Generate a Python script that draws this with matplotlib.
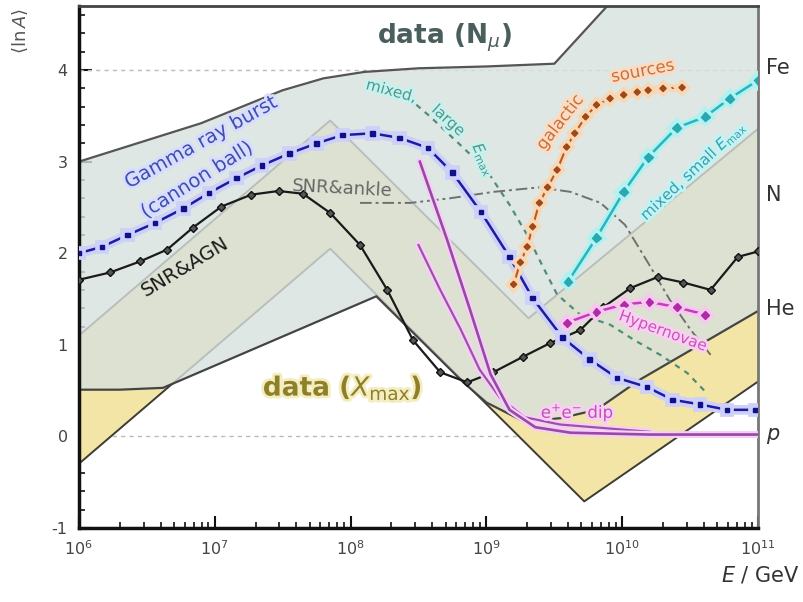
import matplotlib.pyplot as plt
import matplotlib.patheffects as pe
import numpy as np
from matplotlib.ticker import LogLocator, MultipleLocator, NullFormatter

plt.rcParams['font.family'] = ['DejaVu Sans']
plt.rcParams['axes.unicode_minus'] = False

# all energies are log10(E / GeV), composition is <lnA>

# muon-number data band
nmu_up_e = [6.0, 6.3, 6.6, 6.9, 7.2, 7.5, 7.8, 8.1, 8.5, 9.0, 9.5, 9.92]
nmu_up_a = [3.0, 3.14, 3.28, 3.42, 3.6, 3.78, 3.91, 3.98, 4.02, 4.04, 4.07, 4.75]
nmu_lo_e = [6.0, 6.3, 6.62, 8.19, 8.83, 9.0, 9.28, 9.55, 9.81, 10.13, 11.0]
nmu_lo_a = [0.51, 0.51, 0.53, 1.53, 0.59, 0.37, 0.16, 0.2, 0.29, 0.62, 1.37]

# Xmax data band
xmax_lo_e = [6.0, 7.85, 9.72, 11.0]
xmax_lo_a = [-0.3, 2.05, -0.71, 0.6]
xmax_up_e = [6.0, 7.85, 9.31, 11.0]
xmax_up_a = [1.1, 3.45, 1.29, 3.36]

# model predictions
grb_e = [6.0, 6.17, 6.36, 6.56, 6.77, 6.96, 7.16, 7.35, 7.55, 7.75, 7.94, 8.16, 8.36,
         8.57, 8.75, 8.96, 9.17, 9.34, 9.56, 9.76, 9.96, 10.18, 10.37, 10.57, 10.77, 10.98]
grb_a = [2.0, 2.07, 2.2, 2.33, 2.49, 2.66, 2.82, 2.96, 3.09, 3.2, 3.29, 3.31, 3.26,
         3.15, 2.88, 2.45, 1.96, 1.51, 1.08, 0.84, 0.64, 0.54, 0.4, 0.35, 0.29, 0.29]

agn_e = [6.0, 6.23, 6.45, 6.65, 6.84, 7.05, 7.27, 7.47, 7.65, 7.85, 8.07, 8.27, 8.46,
         8.66, 8.86, 9.05, 9.27, 9.47, 9.69, 9.86, 10.06, 10.26, 10.45, 10.65, 10.85, 11.0]
agn_a = [1.71, 1.79, 1.91, 2.04, 2.28, 2.51, 2.64, 2.68, 2.65, 2.44, 2.09, 1.6, 1.05,
         0.7, 0.59, 0.7, 0.87, 1.02, 1.16, 1.41, 1.62, 1.74, 1.68, 1.6, 1.96, 2.02]

ankle_e = [8.07, 8.44, 8.73, 9.05, 9.39, 9.62, 9.84, 10.02, 10.2, 10.35, 10.5, 10.65]
ankle_a = [2.55, 2.55, 2.6, 2.67, 2.72, 2.67, 2.55, 2.31, 1.87, 1.49, 1.17, 0.89]

mixl_e = [8.36, 8.58, 8.81, 9.0, 9.17, 9.3, 9.42, 9.52, 9.69, 9.91, 10.09, 10.28, 10.48, 10.61]
mixl_a = [3.78, 3.5, 3.18, 2.91, 2.53, 2.2, 1.84, 1.55, 1.33, 1.22, 1.05, 0.89, 0.69, 0.49]

gal_e = [9.2, 9.25, 9.3, 9.34, 9.39, 9.45, 9.52, 9.59, 9.65, 9.73, 9.81, 9.91, 10.01,
         10.11, 10.19, 10.3, 10.44]
gal_a = [1.66, 1.9, 2.07, 2.29, 2.55, 2.72, 2.91, 3.16, 3.31, 3.49, 3.62, 3.69, 3.73,
         3.76, 3.78, 3.8, 3.81]

mixs_e = [9.6, 9.81, 10.01, 10.19, 10.4, 10.61, 10.79, 11.0]
mixs_a = [1.69, 2.17, 2.67, 3.05, 3.37, 3.49, 3.69, 3.89]

hyp_e = [9.59, 9.81, 10.01, 10.2, 10.4, 10.61]
hyp_a = [1.24, 1.36, 1.44, 1.47, 1.41, 1.33]

dip1_e = [8.51, 8.71, 8.88, 9.03, 9.17, 9.36, 9.62, 10.2, 11.0]
dip1_a = [3.0, 2.15, 1.38, 0.68, 0.29, 0.1, 0.04, 0.02, 0.02]
dip2_e = [8.5, 8.66, 8.81, 8.95, 9.1, 9.28, 9.54, 10.2]
dip2_a = [2.09, 1.6, 1.17, 0.73, 0.42, 0.21, 0.13, 0.05]

elements = ['Fe', 'N', 'He', '$p$']
element_lnA = [np.log(56), np.log(14), np.log(4), 0.0]


def E(v):
    return 10.0 ** np.asarray(v)


def glow(color, w):
    return [pe.Stroke(linewidth=w, foreground=color), pe.Normal()]


fig = plt.figure(figsize=(8.04, 6.02), dpi=100)
ax = fig.add_axes([0.098, 0.123, 0.845, 0.867])
ax.set_xscale('log')
ax.set_xlim(1e6, 1e11)
ax.set_ylim(-1, 4.7)
ax.set_axisbelow(True)

# dashed reference lines
for y in [0, 4]:
    ax.axhline(y, color='#bbbbbb', ls=(0, (3, 3)), lw=1, zorder=0.6)

# Xmax band (under the muon band)
ax.fill(E(xmax_lo_e + xmax_up_e[::-1]), xmax_lo_a + xmax_up_a[::-1],
        color='#f3e5a6', lw=0, zorder=1)
ax.plot(E(xmax_lo_e), xmax_lo_a, color='#3c3c34', lw=1.4, zorder=1.1)
ax.plot(E(xmax_up_e), xmax_up_a, color='#3c3c34', lw=1.4, zorder=1.1)

# muon band, semi transparent
ax.fill(E(nmu_up_e + [11.0] + nmu_lo_e[::-1]), nmu_up_a + [4.75] + nmu_lo_a[::-1],
        color='#d8e1de', alpha=0.8, lw=0, zorder=1.2)
ax.plot(E(nmu_up_e), nmu_up_a, color='#555555', lw=1.6, zorder=1.3)
ax.plot(E(nmu_lo_e), nmu_lo_a, color='#444444', lw=1.6, zorder=1.3)

# models
ax.plot(E(ankle_e), ankle_a, color='#707070', lw=1.4, ls=(0, (6, 2, 1.5, 2)), zorder=3)
ax.plot(E(mixl_e), mixl_a, color='#4e8e78', lw=1.6, ls=(0, (2.5, 2.5)), zorder=3)

ax.plot(E(agn_e), agn_a, color='#1a1a1a', lw=1.6, marker='D', ms=4.5,
        mfc='#555555', mec='#111111', zorder=4)
ax.plot(E(grb_e), grb_a, color='#1c1ca0', lw=1.8, marker='s', ms=3.2,
        mfc='#10108a', mec='#10108a', zorder=5, path_effects=glow('#cdd0f8', 7))
ax.plot(E(gal_e), gal_a, color='#b85a28', lw=1.5, marker='D', ms=3.2,
        mfc='#a04818', mec='#a04818', zorder=5, path_effects=glow('#f8d8b4', 6))
ax.plot(E(mixs_e), mixs_a, color='#2ab4bc', lw=1.8, marker='D', ms=4.5,
        mfc='#28a8b0', mec='#28a8b0', zorder=5, path_effects=glow('#b0f2f2', 6))
ax.plot(E(hyp_e), hyp_a, color='#c63cbc', lw=1.8, marker='D', ms=4,
        mfc='#b02aa8', mec='#b02aa8', zorder=5, path_effects=glow('#f6c8f0', 6))
ax.plot(E(dip2_e), dip2_a, color='#a050aa', lw=1.6, zorder=5,
        path_effects=glow('#f4d0f4', 5))
ax.plot(E(dip1_e), dip1_a, color='#9a48a6', lw=1.9, zorder=5,
        path_effects=glow('#f4d0f4', 5))

# labels
def label(e, a, s, color, size, rot=0, halo=None, **kw):
    t = ax.text(10 ** e, a, s, color=color, fontsize=size, rotation=rot,
                ha='center', va='center', rotation_mode='anchor', zorder=6, **kw)
    if halo:
        t.set_path_effects(glow(halo, 4))
    return t


label(8.69, 4.35, r'data (N$_\mu$)', '#4a5e5e', 19, weight='bold')
label(7.94, 0.53, r'data ($X_{\rm max}$)', '#8e8028', 19, halo='#f4edc0', weight='bold')
label(6.90, 3.21, 'Gamma ray burst', '#3f4fb0', 14, 29, halo='#d8dcff')
label(6.87, 2.80, '(cannon ball)', '#3f4fb0', 14, 32, halo='#d8dcff')
label(6.78, 1.85, 'SNR&AGN', '#1a1a1a', 14, 31)
label(7.94, 2.71, 'SNR&ankle', '#666666', 13, -3)
label(8.30, 3.77, 'mixed,', '#4a9a90', 11, -15, halo='#c8f0ec')
label(8.72, 3.45, 'large', '#4a9a90', 11, -42, halo='#c8f0ec')
label(8.98, 3.02, r'$E_{\rm max}$', '#4a9a90', 11, -65, halo='#c8f0ec')
label(9.54, 3.43, 'galactic', '#c87040', 12, 52, halo='#fcdcc0')
label(10.15, 3.99, 'sources', '#c87040', 12, 11, halo='#fcdcc0')
label(10.52, 2.90, r'mixed, small $E_{\rm max}$', '#3aa0b0', 11, 43, halo='#c0f4f4')
label(10.30, 1.15, 'Hypernovae', '#d050c0', 11, -20, halo='#f8d0f0')
label(9.67, 0.26, r'e$^{+}$e$^{-}$ dip', '#c050c0', 12, halo='#f8d0f0')

# element markers on the right
for s, v in zip(elements, element_lnA):
    ax.text(1.012, v, s, transform=ax.get_yaxis_transform(), fontsize=15,
            color='#333333', ha='left', va='center')

# axes styling
ax.xaxis.set_major_locator(LogLocator(base=10, numticks=10))
ax.xaxis.set_minor_locator(LogLocator(base=10, subs=np.arange(2, 10), numticks=20))
ax.xaxis.set_minor_formatter(NullFormatter())
ax.yaxis.set_major_locator(MultipleLocator(1))
ax.yaxis.set_minor_locator(MultipleLocator(0.2))
ax.tick_params(which='both', direction='in', top=False, right=False,
               labelsize=11.5, labelcolor='#444444', color='#111111')
ax.tick_params(which='major', length=9, width=1.5, pad=8)
ax.tick_params(which='minor', length=4.5, width=1.2)

ax.spines['left'].set_linewidth(2.5)
ax.spines['left'].set_color('#111111')
ax.spines['bottom'].set_linewidth(2.5)
ax.spines['bottom'].set_color('#111111')
ax.spines['top'].set_linewidth(2)
ax.spines['top'].set_color('#444444')
ax.spines['right'].set_linewidth(2)
ax.spines['right'].set_color('#777777')

fig.text(0.026, 0.948, r'$\langle\ln A\rangle$', rotation=90, fontsize=13,
         color='#555555', ha='center', va='center')
fig.text(0.995, 0.045, r'$E$ / GeV', fontsize=15, color='#333333',
         ha='right', va='center')

fig.savefig('out.png', dpi=100)
